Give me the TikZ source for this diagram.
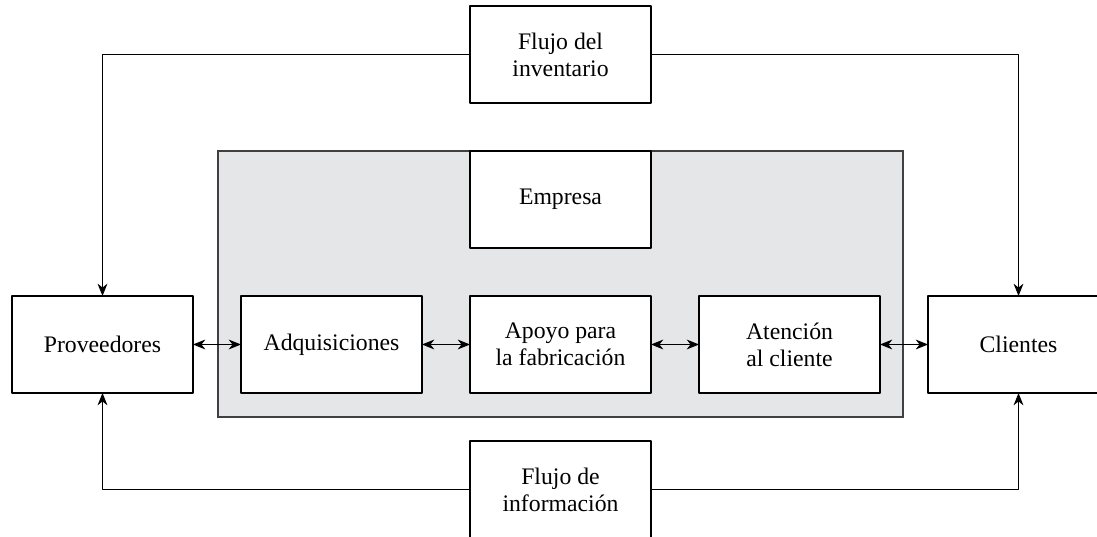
\documentclass[tikz,border=0pt]{standalone}
\usepackage{fontspec}
\setmainfont{Liberation Serif}
\usetikzlibrary{positioning,arrows.meta,backgrounds}
\definecolor{grisempresa}{RGB}{229,230,232}
\begin{document}
\begin{tikzpicture}[font=\fontsize{13.5}{15.3}\selectfont, line join=round, >={Stealth[length=7pt,width=5.6pt,inset=2.2pt]},
  caja/.style={draw, line width=1.1pt, fill=white, minimum width=3.62cm, minimum height=1.94cm, align=center, inner sep=0pt, outer sep=0pt},
  flecha/.style={line width=0.6pt},
  node distance=0.96cm]
\useasboundingbox (0,0) rectangle (21.94,10.74);
\node[caja] (prov) at (2.05,3.85) {Proveedores};
\node[caja, right=of prov] (adq) {Adquisiciones};
\node[caja, right=of adq] (apoyo) {Apoyo para\\la fabricación};
\node[caja, right=of apoyo] (aten) {Atención\\al cliente};
\node[caja, right=of aten] (clie) {Clientes};
\node[caja, above=of apoyo] (emp) {Empresa};
\node[caja, above=of emp] (inv) {Flujo del\\inventario};
\node[caja, below=of apoyo] (info) {Flujo de\\información};
% empresa
\begin{scope}[on background layer]
\draw[fill=grisempresa, draw=black!75, line width=0.6pt] ([xshift=-0.46cm]adq.west |- emp.north) rectangle ([xshift=0.46cm,yshift=-0.48cm]aten.east |- apoyo.south);
\end{scope}
\draw[flecha, <->] (prov) -- (adq);
\draw[flecha, <->] (adq) -- (apoyo);
\draw[flecha, <->] (apoyo) -- (aten);
\draw[flecha, <->] (aten) -- (clie);
\draw[flecha, ->] (inv.west) -| (prov.north);
\draw[flecha, ->] (inv.east) -| (clie.north);
\draw[flecha, ->] (info.west) -| (prov.south);
\draw[flecha, ->] (info.east) -| (clie.south);
\end{tikzpicture}
\end{document}
